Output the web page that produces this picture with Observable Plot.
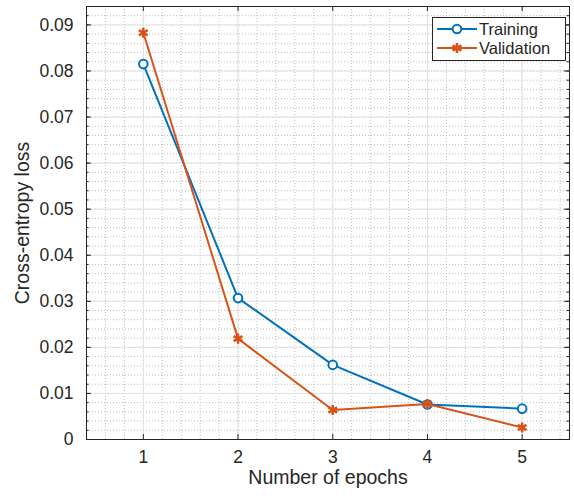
<!DOCTYPE html>
<html><head><meta charset="utf-8">
<script src="https://cdn.jsdelivr.net/npm/d3@7"></script>
<script src="https://cdn.jsdelivr.net/npm/@observablehq/plot@0.6"></script>
<style>
body{margin:0;background:#fff;}
#wrap{position:relative;width:574px;height:498px;font-family:"Liberation Sans",Arial,sans-serif;color:#262626;}
#legend{position:absolute;left:432px;top:17px;width:132px;height:42px;border:1px solid #262626;background:#fff;}
#legend svg{position:absolute;left:0;top:0;}
</style></head><body><div id="wrap"></div>
<script>
const epochs = [1, 2, 3, 4, 5];
const training = [0.0815, 0.0307, 0.0162, 0.0076, 0.0067];
const validation = [0.0883, 0.0219, 0.0064, 0.0077, 0.0026];
const xTicks = [1, 2, 3, 4, 5];
const yTicks = [0, 0.01, 0.02, 0.03, 0.04, 0.05, 0.06, 0.07, 0.08, 0.09];
const yTickLabels = ["0", "0.01", "0.02", "0.03", "0.04", "0.05", "0.06", "0.07", "0.08", "0.09"];
const seriesNames = ["Training", "Validation"];
const colors = ["#0072BD", "#D95319"];

const xMinor = d3.range(0.4, 5.5, 0.2).map(v => +v.toFixed(2));
const yMinor = d3.range(0, 0.0941, 0.002).map(v => +v.toFixed(4));

const trainRows = epochs.map((e, i) => ({epoch: e, loss: training[i]}));
const valRows = epochs.map((e, i) => ({epoch: e, loss: validation[i]}));

const W = 574, H = 498, mL = 86, mR = 5, mT = 6, mB = 59;
const pw = W - mL - mR, ph = H - mT - mB;
const frameColor = "#262626";

const plot = Plot.plot({
  width: W, height: H,
  marginLeft: mL, marginRight: mR, marginTop: mT, marginBottom: mB,
  style: {fontFamily: '"Liberation Sans", Arial, sans-serif', fontSize: "17.5px", color: "#262626", background: "#fff"},
  x: {domain: [0.4, 5.5]},
  y: {domain: [0, 0.094]},
  marks: [
    Plot.ruleX(xMinor, {x: d => d, stroke: "#bdbdbd", strokeDasharray: "1,2"}),
    Plot.ruleY(yMinor, {y: d => d, stroke: "#bdbdbd", strokeDasharray: "1,2"}),
    Plot.ruleX(xTicks, {x: d => d, stroke: "#e3e3e3", strokeWidth: 1}),
    Plot.ruleY(yTicks, {y: d => d, stroke: "#e3e3e3", strokeWidth: 1}),
    Plot.frame({stroke: frameColor}),
    Plot.tickX(xTicks, {x: d => d, insetTop: ph - 5, stroke: frameColor}),
    Plot.tickX(xTicks, {x: d => d, insetBottom: ph - 5, stroke: frameColor}),
    Plot.tickY(yTicks, {y: d => d, insetRight: pw - 5, stroke: frameColor}),
    Plot.tickY(yTicks, {y: d => d, insetLeft: pw - 5, stroke: frameColor}),
    Plot.tickY(yMinor, {y: d => d, insetRight: pw - 2.5, stroke: frameColor}),
    Plot.tickY(yMinor, {y: d => d, insetLeft: pw - 2.5, stroke: frameColor}),
    Plot.axisX(xTicks, {tickSize: 0, tickPadding: 11, label: null, fill: "#262626"}),
    Plot.axisY(yTicks, {tickSize: 0, tickPadding: 13, tickFormat: d => yTickLabels[yTicks.indexOf(d)], label: null, fill: "#262626"}),
    Plot.text(["Number of epochs"], {frameAnchor: "bottom", dy: 31, lineAnchor: "top", fontSize: 19.5, fill: "#262626"}),
    Plot.text(["Cross-entropy loss"], {frameAnchor: "left", textAnchor: "middle", rotate: -90, dx: -64, fontSize: 19.5, fill: "#262626"}),
    Plot.line(trainRows, {x: "epoch", y: "loss", stroke: colors[0], strokeWidth: 2}),
    Plot.dot(trainRows, {x: "epoch", y: "loss", symbol: "circle", r: 4.3, stroke: colors[0], fill: "#fff", strokeWidth: 2}),
    Plot.line(valRows, {x: "epoch", y: "loss", stroke: colors[1], strokeWidth: 2}),
    Plot.dot(valRows, {x: "epoch", y: "loss", symbol: "asterisk", r: 4.8, stroke: colors[1], strokeWidth: 2.6})
  ]
});

const wrap = document.getElementById("wrap");
wrap.appendChild(plot);

// legend
const leg = document.createElement("div");
leg.id = "legend";
const ns = "http://www.w3.org/2000/svg";
const svg = document.createElementNS(ns, "svg");
svg.setAttribute("width", 132); svg.setAttribute("height", 42);
seriesNames.forEach((name, i) => {
  const cy = 11 + i * 19;
  const line = document.createElementNS(ns, "line");
  line.setAttribute("x1", 4); line.setAttribute("x2", 44);
  line.setAttribute("y1", cy); line.setAttribute("y2", cy);
  line.setAttribute("stroke", colors[i]); line.setAttribute("stroke-width", 2);
  svg.appendChild(line);
  const sym = document.createElementNS(ns, "path");
  const r = i === 0 ? 4.3 : 4.8;
  const s = d3.symbol(i === 0 ? d3.symbolCircle : d3.symbolAsterisk, Math.PI * r * r)();
  sym.setAttribute("d", s);
  sym.setAttribute("transform", `translate(24,${cy})`);
  sym.setAttribute("stroke", colors[i]); sym.setAttribute("stroke-width", i === 0 ? 2 : 2.6);
  sym.setAttribute("fill", i === 0 ? "#fff" : "none");
  svg.appendChild(sym);
  const t = document.createElementNS(ns, "text");
  t.setAttribute("x", 46); t.setAttribute("y", cy); t.setAttribute("dy", "0.35em");
  t.setAttribute("font-size", 16.5); t.setAttribute("fill", "#262626");
  t.setAttribute("font-family", '"Liberation Sans", Arial, sans-serif');
  t.textContent = name;
  svg.appendChild(t);
});
leg.appendChild(svg);
wrap.appendChild(leg);
</script></body></html>
